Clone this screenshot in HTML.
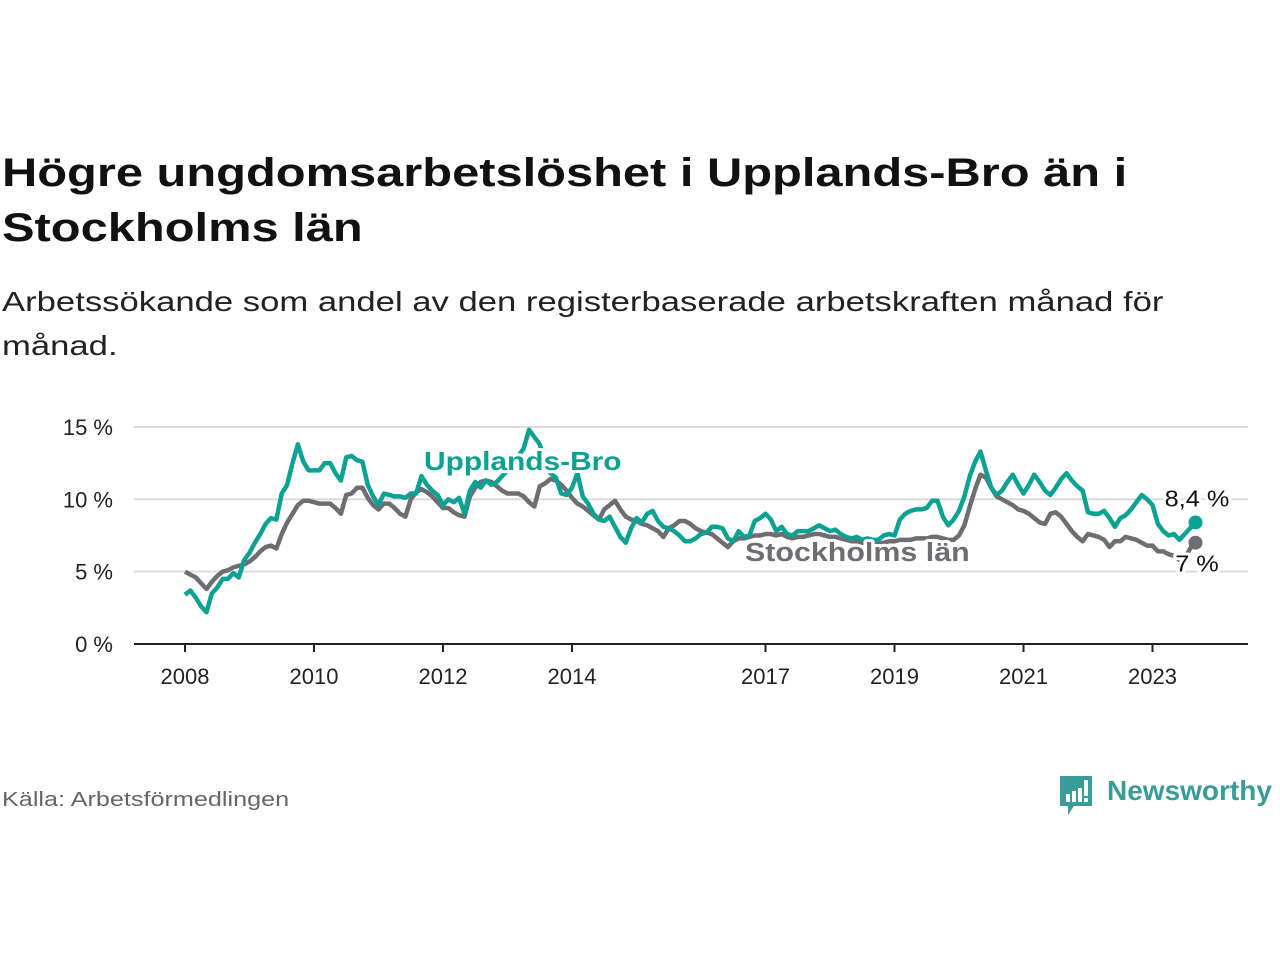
<!DOCTYPE html>
<html><head><meta charset="utf-8">
<style>
body{margin:0;width:1280px;height:960px;background:#fff;font-family:"Liberation Sans",sans-serif;overflow:hidden;position:relative}
.t{position:absolute;left:2px;color:#111;transform-origin:0 0;white-space:nowrap}
</style></head><body>
<div class="t" style="top:146px;font-size:40px;font-weight:bold;line-height:55px;transform:scaleX(1.22)">Högre ungdomsarbetslöshet i Upplands-Bro än i<br>Stockholms län</div>
<div class="t" style="top:280px;font-size:27.5px;line-height:44px;color:#222;transform:scaleX(1.26)">Arbetssökande som andel av den registerbaserade arbetskraften månad för<br>månad.</div>
<svg id="c" width="1280" height="960" style="position:absolute;left:0;top:0"></svg>
<div class="t" style="top:789px;font-size:20px;color:#666;transform:scaleX(1.26)">Källa: Arbetsförmedlingen</div>
<div style="position:absolute;left:1058px;top:774px;width:220px;height:44px">
<svg width="40" height="46" style="position:absolute;left:0;top:0"><path d="M2 2h32v30H16l-6 9v-9H2z" fill="#3a9c98"/><rect x="8" y="20" width="4" height="8" fill="#fff"/><rect x="14" y="17" width="4" height="11" fill="#fff"/><rect x="20" y="14" width="4" height="14" fill="#fff"/><rect x="26" y="6" width="4" height="16" fill="#fff"/><rect x="26" y="24" width="4" height="4" fill="#fff"/></svg>
<span style="position:absolute;left:49px;top:1px;font-size:28px;color:#3a9c98;font-weight:bold;transform:scaleX(1.0);transform-origin:0 0">Newsworthy</span></div>
<script>
const yTicks=[0,5,10,15];
const xYears=[2008,2010,2012,2014,2017,2019,2021,2023];
const upplandsBro=[3.4,3.7,3.2,2.6,2.2,3.5,3.9,4.5,4.5,4.9,4.6,5.8,
6.3,7.0,7.6,8.3,8.7,8.6,10.4,11.0,12.5,13.8,12.6,12.0,
12.0,12.0,12.5,12.5,11.8,11.3,12.9,13.0,12.7,12.6,11.0,10.2,
9.6,10.4,10.3,10.2,10.2,10.1,10.4,10.4,11.6,11.0,10.6,10.3,
9.6,10.0,9.8,10.1,9.0,10.6,11.2,10.8,11.3,11.0,11.2,11.6,
12.0,12.5,13.0,13.5,14.8,14.3,13.8,12.5,11.8,11.5,10.4,10.3,
10.8,11.8,10.2,9.7,9.0,8.6,8.5,8.8,8.1,7.4,7.0,8.0,
8.7,8.4,9.0,9.2,8.5,8.1,8.0,7.8,7.5,7.1,7.1,7.3,
7.6,7.7,8.1,8.1,8.0,7.3,7.1,7.8,7.4,7.5,8.5,8.7,
9.0,8.6,7.8,8.1,7.6,7.5,7.8,7.8,7.8,8.0,8.2,8.0,
7.8,7.9,7.6,7.4,7.3,7.4,7.2,7.3,7.2,7.2,7.5,7.6,
7.5,8.6,9.0,9.2,9.3,9.3,9.4,9.9,9.9,8.8,8.2,8.6,
9.2,10.2,11.6,12.6,13.3,12.0,10.8,10.3,10.6,11.2,11.7,11.0,
10.4,11.0,11.7,11.2,10.6,10.3,10.8,11.4,11.8,11.3,10.9,10.6,
9.1,9.0,9.0,9.2,8.7,8.1,8.7,8.9,9.3,9.8,10.3,10.0,
9.6,8.3,7.8,7.5,7.6,7.2,7.6,8.0,8.4];
const stockholmsLan=[5.0,4.8,4.6,4.2,3.8,4.3,4.7,5.0,5.1,5.3,5.4,5.5,
5.7,6.0,6.4,6.7,6.8,6.6,7.6,8.4,9.0,9.6,9.9,9.9,
9.8,9.7,9.7,9.7,9.4,9.0,10.3,10.4,10.8,10.8,10.1,9.6,
9.3,9.7,9.7,9.4,9.0,8.8,10.0,10.5,10.7,10.5,10.2,9.8,
9.4,9.4,9.1,8.9,8.8,10.2,10.8,11.2,11.3,11.2,10.9,10.6,
10.4,10.4,10.4,10.2,9.8,9.5,10.9,11.1,11.4,11.3,11.0,10.6,
10.1,9.7,9.5,9.2,8.9,8.6,9.3,9.6,9.9,9.3,8.8,8.6,
8.5,8.3,8.2,8.0,7.8,7.4,8.0,8.2,8.5,8.5,8.3,8.0,
7.8,7.7,7.6,7.3,7.0,6.7,7.1,7.3,7.3,7.4,7.5,7.5,
7.6,7.6,7.5,7.6,7.4,7.3,7.4,7.4,7.5,7.6,7.6,7.5,
7.4,7.4,7.3,7.2,7.1,7.1,7.0,7.0,6.9,6.9,7.0,7.1,
7.1,7.2,7.2,7.2,7.3,7.3,7.3,7.4,7.4,7.3,7.2,7.2,
7.5,8.2,9.5,10.7,11.7,11.5,10.8,10.2,10.0,9.8,9.6,9.3,
9.2,9.0,8.7,8.4,8.3,9.0,9.1,8.8,8.3,7.8,7.4,7.1,
7.6,7.5,7.4,7.2,6.7,7.1,7.1,7.4,7.3,7.2,7.0,6.8,
6.8,6.4,6.4,6.2,6.1,5.8,5.9,6.6,7.0];
const NS='http://www.w3.org/2000/svg';
const svg=document.getElementById('c');
const X0=185,PX_Y=64.5,Y0=644,PX_P=14.47;
const xm=i=>X0+i*PX_Y/12;
const xy=y=>X0+(y-2008)*PX_Y;
const yv=v=>Y0-v*PX_P;
function el(t,a,txt){const e=document.createElementNS(NS,t);for(const k in a)e.setAttribute(k,a[k]);if(txt!=null)e.textContent=txt;svg.appendChild(e);return e;}
for(const t of yTicks){
 const g=el('line',{x1:134,x2:1248,y1:yv(t),y2:yv(t),stroke:t?'#dcdcdc':'#222','stroke-width':2});
 
 
 const l=el('text',{x:113,y:yv(t)+8,'text-anchor':'end','font-size':22,fill:'#222'},t+' %');
 
 
}
for(const y of xYears){
 const tk=el('line',{x1:xy(y),x2:xy(y),y1:644,y2:652,stroke:'#222','stroke-width':2});
 
 
 const l=el('text',{x:xy(y),y:684,'text-anchor':'middle','font-size':22,fill:'#222'},String(y));
 
 
}
function line(d,c,name){
 const p=el('polyline',{points:d.map((v,i)=>xm(i)+','+yv(v)).join(' '),fill:'none',stroke:c,'stroke-width':4.5,'stroke-linejoin':'round'});
 
 
 const n=d.length-1;
 const dot=el('circle',{cx:xm(n),cy:yv(d[n]),r:7,fill:c});
 
 
}
line(stockholmsLan,'#6f6d72','stockholms-lan-line');
line(upplandsBro,'#0ca293','upplands-bro-line');
function lab(x,y,t,c,w,fs,name,anchor,sx){
 const e=el('text',{x:x,y:y,fill:c,'font-size':fs,'font-weight':w,stroke:'#fff','stroke-width':6,'paint-order':'stroke','stroke-linejoin':'round','text-anchor':anchor||'start'},t);
 if(sx)e.setAttribute('transform','translate('+x+',0) scale('+sx+',1) translate('+(-x)+',0)');
 
 
}
lab(424,470,'Upplands-Bro','#0ca293','bold',26,'upplands-bro-label','start',1.15);
lab(745,561,'Stockholms län','#6f6d72','bold',26,'stockholms-lan-label','start',1.17);
const nU=upplandsBro.length-1,nS=stockholmsLan.length-1;
lab(1197,yv(upplandsBro[nU])-16,upplandsBro[nU].toString().replace('.',',')+' %','#111','normal',23,'upplands-bro-end-value','middle',1.1);
lab(1197,yv(stockholmsLan[nS])+29,Math.round(stockholmsLan[nS])+' %','#111','normal',23,'stockholms-lan-end-value','middle',1.1);
</script>
</body></html>
